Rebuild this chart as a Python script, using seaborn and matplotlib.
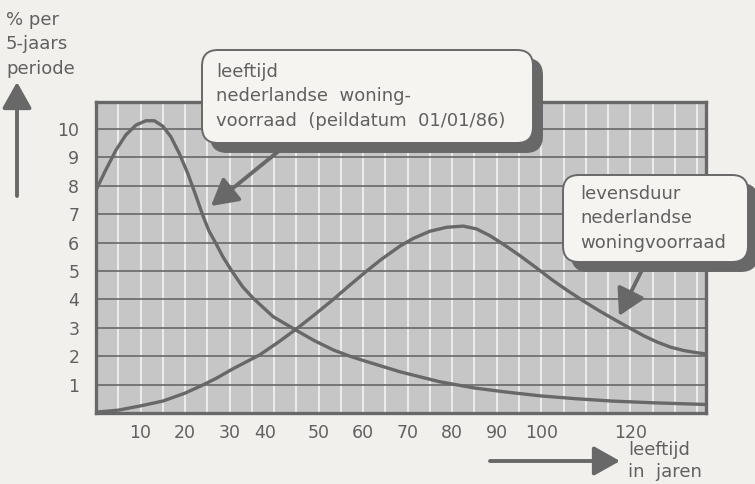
import matplotlib
matplotlib.use("Agg")
import matplotlib.pyplot as plt
import seaborn as sns
from matplotlib.patches import FancyArrowPatch, FancyBboxPatch

# leeftijd nederlandse woningvoorraad (peildatum 01/01/86)
AGE_STOCK = [0, 2.2, 4.5, 6.7, 9, 11.2, 13.1, 15, 16.8, 18.7, 20.6, 22.5, 24,
             25.4, 27, 28.5, 30.5, 32.9, 35.3, 39.8, 45.1, 49, 53.3, 57, 60.8,
             68.3, 77.2, 85, 92, 100, 108, 116, 125, 137]
PCT_STOCK = [7.85, 8.56, 9.26, 9.79, 10.14, 10.29, 10.29, 10.1, 9.73, 9.14,
             8.44, 7.62, 6.95, 6.4, 5.95, 5.5, 5.0, 4.45, 4.04, 3.39, 2.9, 2.55,
             2.22, 2.0, 1.81, 1.45, 1.1, 0.88, 0.74, 0.6, 0.5, 0.42, 0.36, 0.3]

# levensduur nederlandse woningvoorraad
AGE_LIFE = [0, 5, 10, 15, 20, 23.5, 27, 30.8, 36.8, 41, 45.1, 49, 53.3, 57,
            60.8, 64, 68.3, 71.3, 75, 78.8, 82.5, 85.5, 88.5, 91.5, 95.2, 99,
            102.5, 106, 109.4, 113, 116.9, 120, 123, 126, 129, 132, 135, 137]
PCT_LIFE = [0.03, 0.1, 0.25, 0.42, 0.7, 0.95, 1.22, 1.56, 2.05, 2.5, 2.97, 3.45,
            4.0, 4.5, 5.0, 5.4, 5.88, 6.15, 6.4, 6.54, 6.58, 6.48, 6.24, 5.94,
            5.54, 5.1, 4.68, 4.3, 3.95, 3.6, 3.25, 2.98, 2.72, 2.5, 2.32, 2.2,
            2.12, 2.08]

X_TICKS = [10, 20, 30, 38, 50, 60, 70, 80, 90, 100, 120]
X_LABELS = ["10", "20", "30", "40", "50", "60", "70", "80", "90", "100", "120"]
Y_TICKS = list(range(1, 11))
GRID_X = list(range(5, 137, 5))

INK = "#686868"
TEXT = "#606060"
PAPER = "#f1f0ed"
PANEL = "#c6c6c6"
BOX = "#f5f4f1"
W, H = 755, 484


def inch(x, y):
    """Pixel position (from top-left) to figure inches."""
    return x / 100, (H - y) / 100


def callout(fig, x0, y0, x1, y1, text, tx, ty, ls):
    for dx, fc in ((9, INK), (0, BOX)):
        fig.add_artist(FancyBboxPatch(
            inch(x0 + dx, y1 + dx), (x1 - x0) / 100, (y1 - y0) / 100,
            boxstyle="round,pad=0,rounding_size=0.16",
            transform=fig.dpi_scale_trans, fc=fc, ec=INK, lw=1.4))
    fig.text(*inch(tx, ty), text, transform=fig.dpi_scale_trans,
             fontsize=13, color=TEXT, va="top", ha="left", linespacing=ls)


def arrow(fig, a, b, lw=2.8):
    fig.add_artist(FancyArrowPatch(
        inch(*a), inch(*b), transform=fig.dpi_scale_trans,
        arrowstyle="-|>,head_length=0.8,head_width=0.45", mutation_scale=20,
        lw=lw, color=INK, shrinkA=0, shrinkB=0))


sns.set_theme(style="white")
plt.rcParams["font.family"] = ["DejaVu Sans"]

fig = plt.figure(figsize=(W / 100, H / 100), dpi=100, facecolor=PAPER)
ax = fig.add_axes([96 / W, 1 - 413 / H, (706 - 96) / W, (413 - 102) / H])
ax.set_facecolor(PANEL)

for v in GRID_X:
    ax.axvline(v, color="white", lw=1.1, alpha=0.85, zorder=1)
for v in Y_TICKS:
    ax.axhline(v, color=INK, lw=1.2, zorder=2)

sns.lineplot(x=AGE_STOCK, y=PCT_STOCK, ax=ax, color=INK, lw=2.4, zorder=3)
sns.lineplot(x=AGE_LIFE, y=PCT_LIFE, ax=ax, color=INK, lw=2.4, zorder=3)

ax.set_xlim(0, 137)
ax.set_ylim(0, 10.95)
ax.set_xticks(X_TICKS, X_LABELS)
ax.set_yticks(Y_TICKS, [str(v) for v in Y_TICKS])
ax.tick_params(length=0, labelsize=12.5, labelcolor=TEXT)
ax.tick_params(axis="y", pad=12)
ax.tick_params(axis="x", pad=8)
ax.set_xlabel("")
ax.set_ylabel("")
for s in ax.spines.values():
    s.set_color(INK)
    s.set_linewidth(2.4)

callout(fig, 202, 50, 533, 143,
        "leeftijd\nnederlandse  woning-\nvoorraad  (peildatum  01/01/86)",
        216, 63, 1.45)
callout(fig, 563, 175, 748, 262,
        "levensduur\nnederlandse\nwoningvoorraad", 580, 185, 1.45)
arrow(fig, (280, 150), (211, 206))
arrow(fig, (643, 268), (619, 316))

fig.text(*inch(6, 11), "% per\n5-jaars\nperiode", transform=fig.dpi_scale_trans,
         fontsize=13, color=TEXT, va="top", ha="left", linespacing=1.45)
arrow(fig, (17, 196), (17, 82))
fig.text(*inch(628, 441), "leeftijd\nin  jaren", transform=fig.dpi_scale_trans,
         fontsize=13, color=TEXT, va="top", ha="left", linespacing=1.3)
arrow(fig, (490, 461), (620, 461))

fig.savefig("out.png", dpi=100, facecolor=PAPER)
